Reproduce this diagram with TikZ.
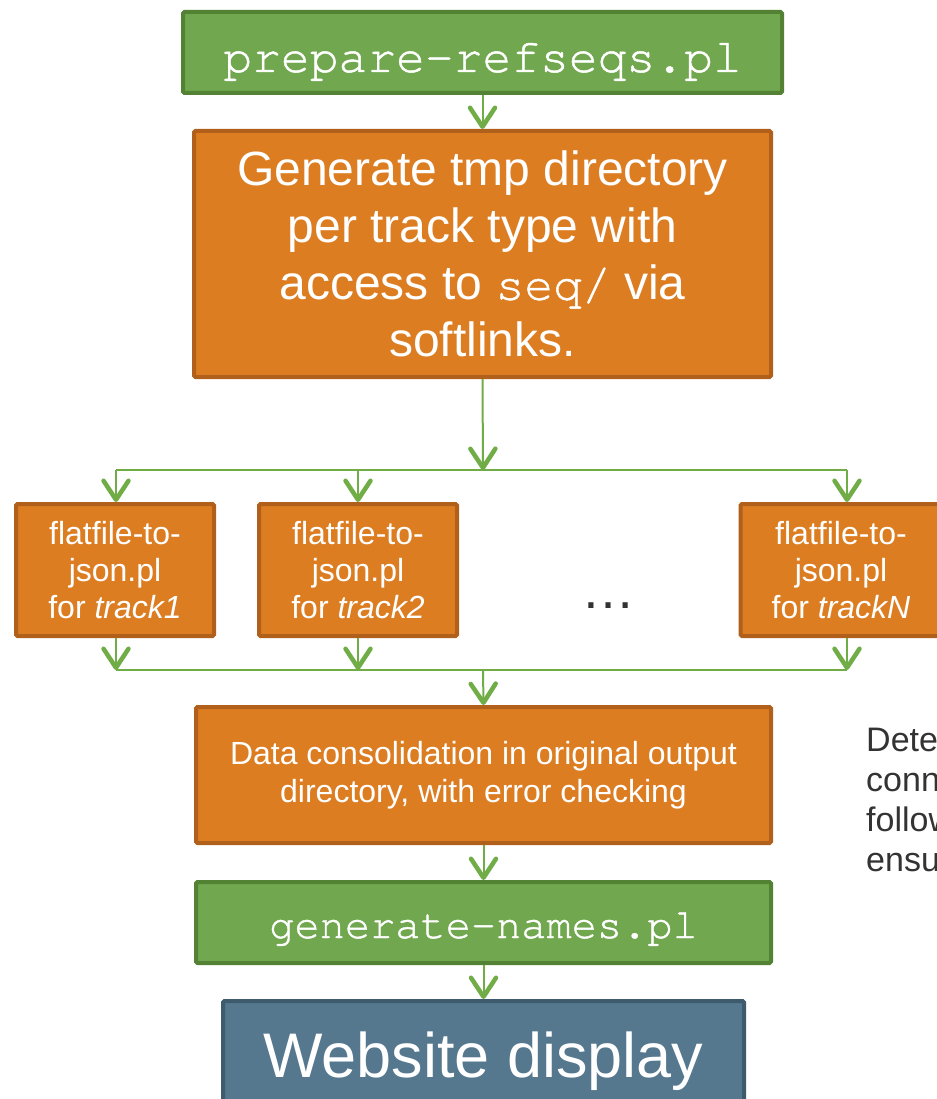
\documentclass[tikz,border=0pt]{standalone}
\usepackage{fontspec}
\setmainfont{Liberation Sans}
\setmonofont[FakeBold=1]{TeX Gyre Cursor}
\usetikzlibrary{arrows.meta}
\definecolor{gfill}{HTML}{71A84F}
\definecolor{gdraw}{HTML}{548235}
\definecolor{ofill}{HTML}{DC7D22}
\definecolor{odraw}{HTML}{B0601A}
\definecolor{bfill}{HTML}{55788F}
\definecolor{bdraw}{HTML}{3E5B6D}
\definecolor{conncol}{HTML}{70AD47}
\definecolor{textgray}{HTML}{333333}
\begin{document}
\begin{tikzpicture}[x=1pt,y=-1pt,
  box/.style={rectangle, line width=4pt, rounded corners=1.5pt, inner sep=0pt, text=white, align=center},
  gbox/.style={box, fill=gfill, draw=gdraw},
  obox/.style={box, fill=ofill, draw=odraw},
  bbox/.style={box, fill=bfill, draw=bdraw},
  conn/.style={draw=conncol, line width=2pt},
  arr/.style={conn, -{Straight Barb[length=19pt,width=25pt,line width=4.5pt,round]}},
  bigfont/.style={font=\fontsize{48pt}{57pt}\selectfont},
  smallfont/.style={font=\fontsize{32pt}{37pt}\selectfont}
]
\useasboundingbox (0,0) rectangle (936,1099);
\fill[white] (0,0) rectangle (936,1099);

\node[gbox, minimum width=599pt, minimum height=81pt, text height=45pt, text depth=6pt,
  font=\ttfamily\fontsize{48pt}{57pt}\selectfont] (prep) at (482.5,52.5) {prepare-refseqs.pl};

\node[obox, bigfont, minimum width=577pt, minimum height=246pt] (gen) at (482.5,254)
  {Generate tmp directory\\per track type with\\access to \texttt{seq/} via\\softlinks.};

\node[obox, smallfont, minimum width=198pt, minimum height=132pt] (b1) at (115,570)
  {flatfile-to-\\json.pl\\for \textit{track1}};
\node[obox, smallfont, minimum width=198pt, minimum height=132pt] (b2) at (358,570)
  {flatfile-to-\\json.pl\\for \textit{track2}};
\node[obox, smallfont, minimum width=201pt, minimum height=132pt] (bN) at (841,570)
  {flatfile-to-\\json.pl\\for \textit{trackN}};

\node[anchor=base, inner sep=0pt, text=textgray, font=\fontsize{54pt}{60pt}\selectfont] (dots) at (608,608) {…};

\node[obox, font=\fontsize{32pt}{38pt}\selectfont, minimum width=575pt, minimum height=136pt] (cons) at (483.5,775)
  {Data consolidation in original output\\directory, with error checking};

\node[gbox, minimum width=575pt, minimum height=81pt, text height=40pt, text depth=9pt,
  font=\ttfamily\fontsize{42pt}{50pt}\selectfont] (names) at (483.5,922.5) {generate-names.pl};

\node[bbox, minimum width=521pt, minimum height=140pt, text height=50pt, text depth=38pt,
  font=\fontsize{63pt}{70pt}\selectfont] (web) at (483.5,1071) {Website display};

\node[anchor=west, align=left, inner sep=0pt, text=textgray,
  font=\fontsize{34pt}{40pt}\selectfont] (note) at (866,800) {Dete\\conn\\follow\\ensu};

\coordinate (split) at (483,470);
\coordinate (hl) at (116,470);
\coordinate (hr) at (847,470);
\coordinate (jn) at (483,670);
\coordinate (jl) at (116,670);
\coordinate (jr) at (847,670);

\draw[arr] (prep) -- (gen);
\draw[arr] (gen.south) -- (split);
\draw[conn] (hl) -- (hr);
\draw[arr] (hl) -- (hl |- b1.north);
\draw[arr] (b2.north |- hl) -- (b2.north);
\draw[arr] (hr) -- (hr |- bN.north);
\draw[arr] (jl |- b1.south) -- (jl);
\draw[arr] (b2.south) -- (b2.south |- jl);
\draw[arr] (jr |- bN.south) -- (jr);
\draw[conn] (jl) -- (jr);
\draw[arr] (jn) -- (cons.north);
\draw[arr] (cons) -- (names);
\draw[arr] (names) -- (web);
\end{tikzpicture}
\end{document}
